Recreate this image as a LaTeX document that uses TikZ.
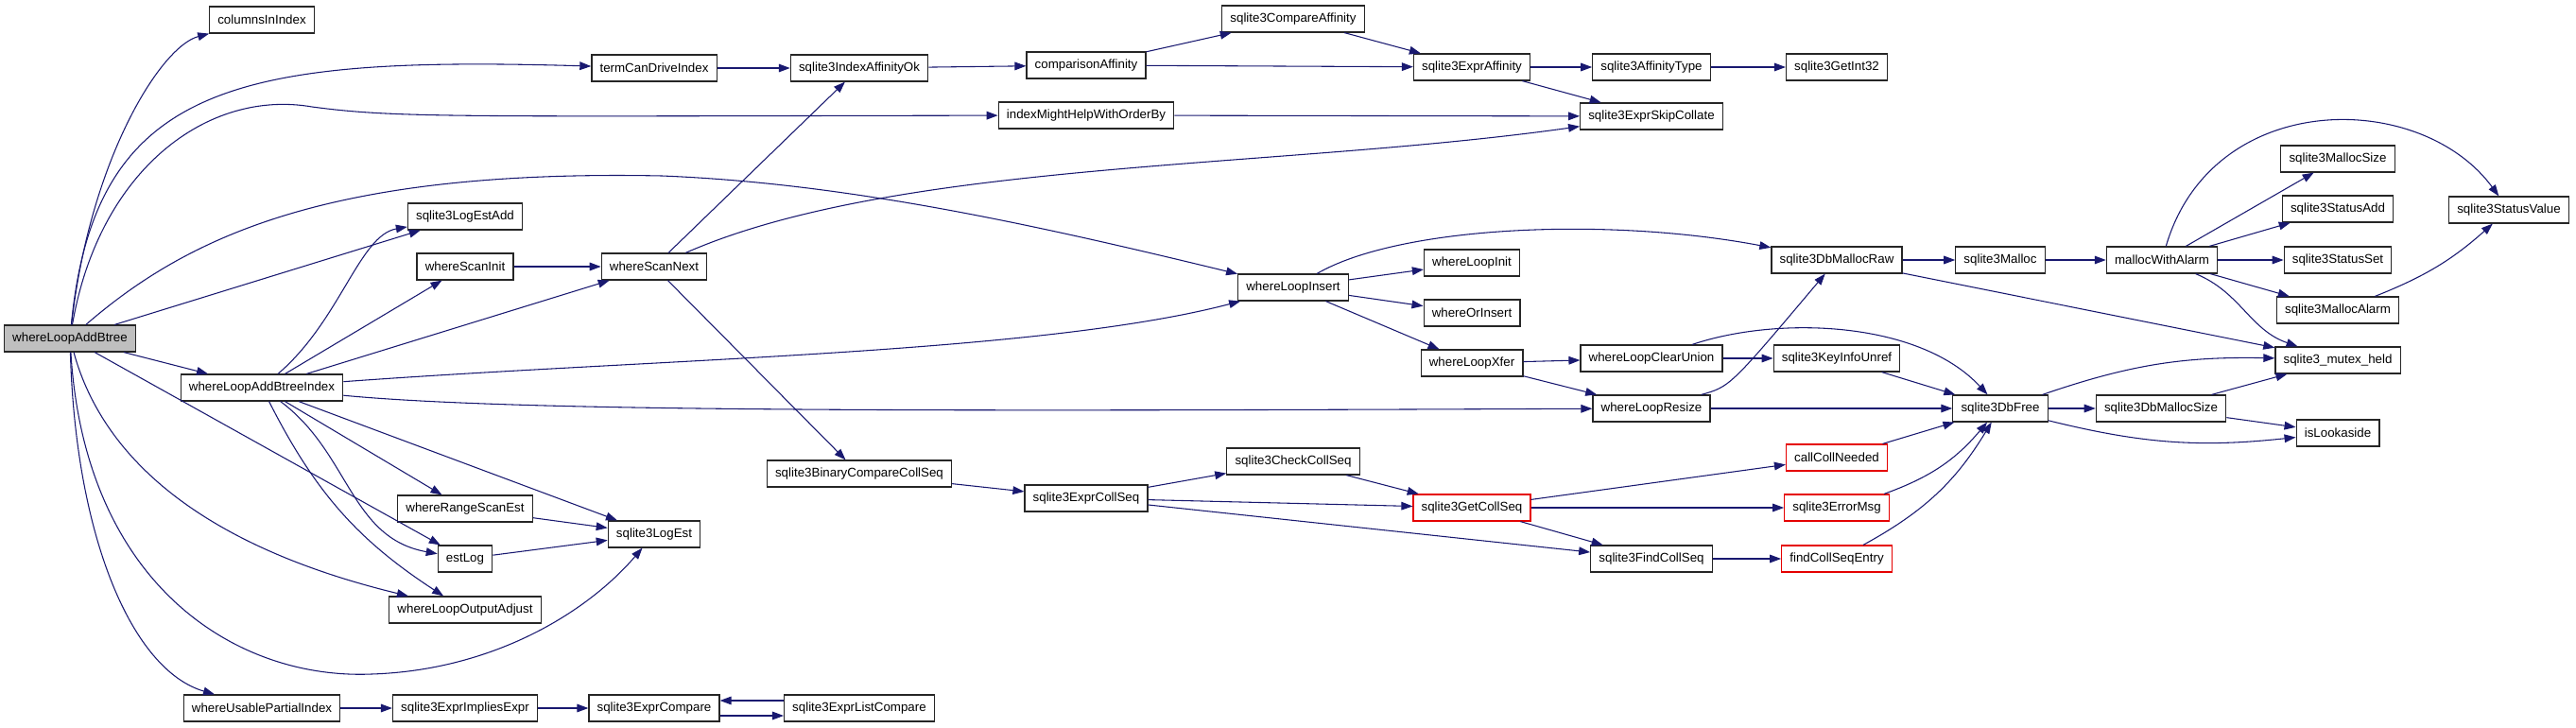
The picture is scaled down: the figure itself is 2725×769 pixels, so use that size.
\documentclass[tikz,border=0pt]{standalone}
\usepackage{fontspec}
\setmainfont{Liberation Sans}
\usetikzlibrary{arrows.meta}
\definecolor{edgeblue}{HTML}{191970}

\begin{document}
\begin{tikzpicture}[x=0.75pt, y=0.75pt,
    >={Triangle[length=9pt,width=6.5pt]},
    func/.style={draw=black!85, line width=0.9pt, fill=white, inner xsep=6.5pt,
      inner ysep=0pt, minimum height=21pt, font=\fontsize{10}{12}\selectfont},
    rootfunc/.style={func, fill=black!25},
    trunc/.style={func, draw=red!90!black},
    call/.style={->, draw=edgeblue, line width=0.8pt},
    every edge/.style={draw=edgeblue, line width=0.8pt}]
  \useasboundingbox (0,0) rectangle (2725,769);

  % first columns
  \node[rootfunc] (A) at (74,411) {whereLoopAddBtree};
  \node[func] (cii) at (277,748) {columnsInIndex};
  \node[func] (B) at (277,359) {whereLoopAddBtreeIndex};
  \node[func] (wupi) at (277,20) {whereUsablePartialIndex};
  \node[func] (leadd) at (492,540) {sqlite3LogEstAdd};
  \node[func] (wsi) at (492,487) {whereScanInit};
  \node[func] (wrse) at (492,231) {whereRangeScanEst};
  \node[func] (estlog) at (492,178) {estLog};
  \node[func] (wloa) at (492,124) {whereLoopOutputAdjust};
  \node[func] (seie) at (492,20) {sqlite3ExprImpliesExpr};
  \node[func] (tcdi) at (692,697) {termCanDriveIndex};
  \node[func] (wsn) at (692,487) {whereScanNext};
  \node[func] (lest) at (692,204) {sqlite3LogEst};
  \node[func] (sec) at (692,20) {sqlite3ExprCompare};
  \node[func] (siao) at (909,697) {sqlite3IndexAffinityOk};
  \node[func] (sbcc) at (909,268) {sqlite3BinaryCompareCollSeq};
  \node[func] (selc) at (909,20) {sqlite3ExprListCompare};
  \node[func] (ca) at (1149,700) {comparisonAffinity};
  \node[func] (imh) at (1149,647) {indexMightHelpWithOrderBy};
  \node[func] (secs) at (1149,242) {sqlite3ExprCollSeq};
  % middle columns
  \node[func] (sca) at (1368,749) {sqlite3CompareAffinity};
  \node[func] (wli) at (1368,465) {whereLoopInsert};
  \node[func] (scc) at (1368,281) {sqlite3CheckCollSeq};
  \node[func] (sea) at (1557,698) {sqlite3ExprAffinity};
  \node[func] (wlinit) at (1557,491) {whereLoopInit};
  \node[func] (woi) at (1557,438) {whereOrInsert};
  \node[func] (wlx) at (1557,385) {whereLoopXfer};
  \node[trunc] (sgcs) at (1557,232) {sqlite3GetCollSeq};
  \node[func] (sat) at (1747,698) {sqlite3AffinityType};
  \node[func] (sesc) at (1747,646) {sqlite3ExprSkipCollate};
  \node[func] (wlcu) at (1747,390) {whereLoopClearUnion};
  \node[func] (wlr) at (1747,337) {whereLoopResize};
  \node[func] (sfcs) at (1747,178) {sqlite3FindCollSeq};
  \node[func] (sgi) at (1943,698) {sqlite3GetInt32};
  \node[func] (sdmr) at (1943,494) {sqlite3DbMallocRaw};
  \node[func] (skiu) at (1943,390) {sqlite3KeyInfoUnref};
  \node[trunc] (ccn) at (1943,285) {callCollNeeded};
  \node[trunc] (sem) at (1943,232) {sqlite3ErrorMsg};
  \node[trunc] (fcse) at (1943,178) {findCollSeqEntry};
  % last columns
  \node[func] (sm) at (2116,494) {sqlite3Malloc};
  \node[func] (sdf) at (2116,337) {sqlite3DbFree};
  \node[func] (mwa) at (2287,494) {mallocWithAlarm};
  \node[func] (sdms) at (2286,337) {sqlite3DbMallocSize};
  \node[func] (sms) at (2473,601) {sqlite3MallocSize};
  \node[func] (ssa) at (2473,548) {sqlite3StatusAdd};
  \node[func] (sss) at (2473,494) {sqlite3StatusSet};
  \node[func] (sma) at (2473,441) {sqlite3MallocAlarm};
  \node[func] (smh) at (2473,388) {sqlite3\_mutex\_held};
  \node[func] (isl) at (2473,311) {isLookaside};
  \node[func] (ssv) at (2654,547) {sqlite3StatusValue};

  % curved calls
  \draw[call] (A) .. controls (95,600) and (170,720) .. (cii);
  \draw[call] (A) .. controls (100,680) and (250,710) .. (tcdi);
  \draw[call] (A) .. controls (105,590) and (220,675) .. (330,656)
    .. controls (420,644) and (480,646) .. (imh);
  \draw[call] (A) .. controls (200,520) and (350,590) .. (700,583)
    .. controls (900,575) and (1100,530) .. (wli);
  \draw[call] (A) .. controls (110,280) and (220,190) .. (wloa);
  \draw[call] (A) .. controls (90,150) and (250,50) .. (393,56)
    .. controls (520,60) and (620,120) .. (lest);
  \draw[call] (A) .. controls (80,200) and (140,60) .. (wupi);
  \draw[call] (B) .. controls (360,430) and (380,520) .. (leadd);
  \draw[call] (B) .. controls (700,390) and (1100,395) .. (wli);
  \draw[call] (B) .. controls (550,333) and (1000,334) .. (wlr);
  \draw[call] (B) .. controls (370,290) and (370,200) .. (estlog);
  \draw[call] (wsn) .. controls (950,600) and (1350,590) .. (sesc);
  \draw[call] (wli) .. controls (1480,530) and (1700,540) .. (sdmr);
  \draw[call] (wlcu) .. controls (1880,435) and (2030,430) .. (sdf);
  \draw[call] (wlr) .. controls (1830,360) .. (sdmr);
  \draw[call] (mwa) .. controls (2340,675) and (2560,675) .. (ssv);
  \draw[call] (mwa) .. controls (2370,460) and (2380,420) .. (smh);
  \draw[call] ([yshift=-6pt]sec.east) -- ([yshift=-6pt]selc.west);
  \draw[call] ([yshift=6pt]selc.west) -- ([yshift=6pt]sec.east);

  % straight and bent calls
  \path[->]
    (A) edge (leadd)
        edge (B)
        edge (estlog)
    (B) edge (wsi)
        edge (wsn)
        edge (wrse)
        edge [bend right=15] (wloa)
        edge (lest)
    (wrse) edge (lest)
    (estlog) edge (lest)
    (wsi) edge (wsn)
    (wsn) edge (siao)
          edge (sbcc)
    (tcdi) edge (siao)
    (siao) edge (ca)
    (ca) edge (sca)
         edge (sea)
    (sca) edge (sea)
    (sea) edge (sat)
          edge (sesc)
    (sat) edge (sgi)
    (imh) edge (sesc)
    (wli) edge (wlinit)
          edge (woi)
          edge (wlx)
    (wlx) edge (wlcu)
          edge (wlr)
    (wlcu) edge (skiu)
    (wlr) edge (sdf)
    (skiu) edge (sdf)
    (sdmr) edge (sm)
           edge (smh)
    (sm) edge (mwa)
    (mwa) edge (sms)
          edge (ssa)
          edge (sss)
          edge (sma)
    (sma) edge [bend right=10] (ssv)
    (sdf) edge [bend left=10] (smh)
          edge (sdms)
          edge [bend right=10] (isl)
    (sdms) edge (smh)
           edge (isl)
    (sbcc) edge (secs)
    (secs) edge (scc)
           edge (sgcs)
           edge (sfcs)
    (scc) edge (sgcs)
    (sgcs) edge (ccn)
           edge (sem)
           edge (sfcs)
    (sfcs) edge (fcse)
    (ccn) edge (sdf)
    (sem) edge [bend right=15] (sdf)
    (fcse) edge [bend right=15] (sdf)
    (wupi) edge (seie)
    (seie) edge (sec);
\end{tikzpicture}
\end{document}
